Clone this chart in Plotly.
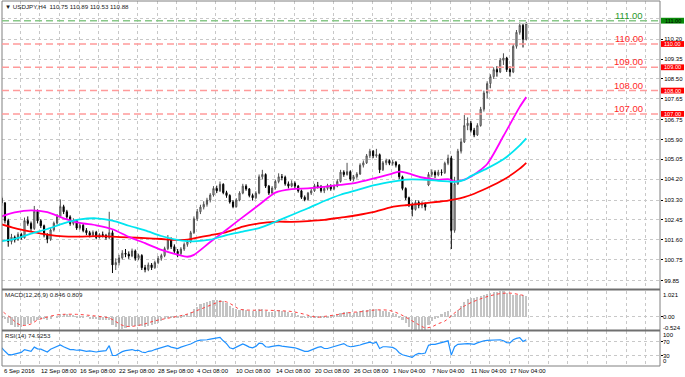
import plotly.graph_objects as go

# ---------------- data (8-hour candles built from the H4 chart) ----------------
opens = [103.55,103.38,103.18,102.42,101.52,101.71,101.60,101.83,101.68,102.42,
102.30,102.08,102.82,102.41,102.20,101.80,101.62,102.02,102.31,102.60,
103.02,102.80,102.58,102.30,102.42,102.10,102.22,102.00,101.90,101.79,
101.92,101.70,101.82,101.78,101.70,101.90,100.52,100.62,100.82,101.02,
100.98,100.90,101.12,100.80,100.92,100.40,100.32,100.52,100.40,100.62,
100.80,100.92,101.22,101.62,101.30,101.10,101.00,101.20,101.40,101.52,
101.90,102.50,102.80,103.00,103.12,103.30,103.52,103.80,103.70,103.98,
103.62,103.50,103.22,103.02,103.30,103.60,103.90,103.78,103.50,103.40,
103.60,104.30,104.40,103.90,103.60,103.82,104.10,104.30,104.28,104.00,
103.90,104.02,103.90,103.70,103.42,103.32,103.60,103.70,103.92,103.88,
103.70,103.80,103.92,103.78,103.90,104.10,104.50,104.40,104.52,104.20,
104.30,104.42,104.80,104.90,105.20,105.40,105.20,105.25,104.60,104.90,
105.00,104.88,104.92,104.80,104.30,103.80,103.40,103.10,102.90,103.20,
103.08,103.12,103.95,104.40,104.50,104.38,104.50,104.48,104.88,105.10,
102.00,104.00,105.40,105.80,106.50,106.60,106.30,106.10,106.50,107.20,
107.90,108.30,108.60,108.90,108.80,109.30,109.40,108.90,108.80,109.90,
110.50,110.80,110.20]
highs = [103.66,103.45,103.22,102.50,101.85,101.78,101.92,101.90,102.55,102.60,
102.38,103.05,102.90,102.48,102.25,101.88,102.10,102.38,102.70,103.33,
103.10,102.88,102.65,102.52,102.48,102.30,102.28,102.10,101.98,102.00,
101.98,101.88,101.95,101.85,102.80,102.00,100.80,100.95,101.15,101.20,
101.10,101.22,101.18,101.00,100.98,100.52,100.62,100.60,100.70,100.90,
101.00,101.30,101.80,101.70,101.40,101.20,101.28,101.48,101.60,101.98,
102.60,102.92,103.10,103.25,103.40,103.60,103.90,103.92,104.10,104.02,
103.70,103.55,103.30,103.38,103.68,104.00,103.98,103.82,103.58,103.68,
104.40,104.60,104.45,103.95,103.90,104.18,104.45,104.42,104.35,104.10,
104.15,104.10,103.95,103.75,103.50,103.65,103.78,104.00,104.08,103.95,
103.88,104.00,103.98,103.98,104.20,104.60,104.58,104.90,104.58,104.38,
104.50,104.88,105.00,105.28,105.50,105.45,105.50,105.30,104.98,105.08,
105.05,105.02,104.98,104.85,104.35,103.85,103.45,103.20,103.30,103.28,
103.25,103.20,104.50,104.62,104.58,104.60,104.62,104.95,105.25,105.20,
104.30,105.50,105.95,106.95,106.85,106.70,106.40,106.60,107.30,108.00,
108.40,108.70,109.00,109.05,109.40,109.60,109.45,109.05,110.00,110.60,
110.92,110.90,110.95]
lows = [103.25,103.05,102.30,101.30,101.40,101.48,101.55,101.60,101.65,102.20,
101.98,102.02,102.30,102.10,101.70,101.45,101.55,101.95,102.25,102.55,
102.70,102.50,102.20,102.22,102.02,102.03,101.92,101.80,101.70,101.72,
101.62,101.65,101.70,101.60,101.62,100.17,100.30,100.50,100.75,100.85,
100.78,100.85,100.70,100.72,100.30,100.20,100.25,100.30,100.35,100.55,
100.70,100.85,101.15,101.20,101.02,100.85,100.92,101.12,101.30,101.45,
101.85,102.40,102.70,102.90,103.02,103.20,103.45,103.60,103.65,103.55,
103.40,103.15,102.95,102.98,103.25,103.55,103.70,103.42,103.28,103.35,
103.55,104.20,103.82,103.52,103.55,103.75,104.02,104.15,103.92,103.80,
103.85,103.82,103.62,103.35,103.25,103.28,103.52,103.65,103.80,103.62,
103.60,103.72,103.70,103.72,103.85,104.05,104.30,104.35,104.12,104.10,
104.22,104.38,104.70,104.85,105.10,105.10,105.12,104.46,104.55,104.80,
104.80,104.78,104.70,104.20,103.72,103.30,103.00,102.60,102.85,102.95,
102.95,102.85,103.90,104.30,104.25,104.32,104.35,104.42,104.80,101.20,
101.90,103.95,105.30,105.75,106.30,106.20,106.00,106.05,106.45,107.10,
107.65,108.10,108.50,108.60,108.75,109.10,108.80,108.60,108.75,109.80,
110.40,109.85,110.15]
closes = [103.38,103.18,102.42,101.52,101.71,101.60,101.83,101.68,102.42,102.30,
102.08,102.82,102.41,102.20,101.80,101.62,102.02,102.31,102.60,103.02,
102.80,102.58,102.30,102.42,102.10,102.22,102.00,101.90,101.79,101.92,
101.70,101.82,101.78,101.70,101.90,100.52,100.62,100.82,101.02,100.98,
100.90,101.12,100.80,100.92,100.40,100.32,100.52,100.40,100.62,100.80,
100.92,101.22,101.62,101.30,101.10,101.00,101.20,101.40,101.52,101.90,
102.50,102.80,103.00,103.12,103.30,103.52,103.80,103.70,103.98,103.62,
103.50,103.22,103.02,103.30,103.60,103.90,103.78,103.50,103.40,103.60,
104.30,104.40,103.90,103.60,103.82,104.10,104.30,104.28,104.00,103.90,
104.02,103.90,103.70,103.42,103.32,103.60,103.70,103.92,103.88,103.70,
103.80,103.92,103.78,103.90,104.10,104.50,104.40,104.52,104.20,104.30,
104.42,104.80,104.90,105.20,105.40,105.20,105.25,104.60,104.90,105.00,
104.88,104.92,104.80,104.30,103.80,103.40,103.10,102.90,103.20,103.08,
103.12,103.00,104.40,104.50,104.38,104.50,104.48,104.88,105.10,102.00,
104.00,105.40,105.80,106.50,106.60,106.30,106.10,106.50,107.20,107.90,
108.30,108.60,108.90,108.80,109.30,109.40,108.90,108.80,109.90,110.50,
110.80,110.20,110.88]

# moving averages, sampled at candle indices
ma_idx = [0,5,10,15,20,25,30,35,40,45,50,55,58,60,65,70,75,80,85,90,95,100,105,
          110,115,120,123,125,130,135,138,140,143,145,150,155,160,162]
ma_fast = [102.56,102.77,102.86,102.78,102.52,102.32,102.22,102.05,101.72,101.45,101.16,
           100.96,100.87,100.95,101.50,102.03,102.57,103.10,103.62,103.77,103.80,103.87,
           103.95,104.05,104.22,104.40,104.52,104.48,104.27,104.17,104.20,104.10,104.18,
           104.30,104.85,106.05,107.30,107.72]
ma_mid = [101.52,101.64,101.86,102.06,102.30,102.47,102.52,102.42,102.20,102.00,101.76,
          101.59,101.54,101.53,101.60,101.80,101.95,102.10,102.37,102.66,102.95,103.26,
          103.53,103.73,103.93,104.07,104.14,104.18,104.18,104.13,104.10,104.08,104.17,
          104.33,104.66,105.05,105.65,105.95]
ma_slow = [102.30,102.10,101.95,101.82,101.74,101.73,101.75,101.73,101.70,101.67,101.63,
           101.59,101.60,101.66,101.79,101.93,102.16,102.30,102.37,102.37,102.40,102.45,
           102.55,102.65,102.78,102.98,103.05,103.08,103.15,103.23,103.28,103.33,103.43,
           103.52,103.82,104.17,104.65,104.90]

macd_hist = [0.12,0.06,-0.06,-0.20,-0.30,-0.36,-0.38,-0.37,-0.31,-0.25,
-0.20,-0.12,-0.10,-0.05,-0.06,-0.08,-0.04,0.00,0.05,0.12,
0.14,0.13,0.10,0.08,0.06,0.04,0.02,0.00,-0.03,-0.05,
-0.07,-0.08,-0.09,-0.08,-0.10,-0.28,-0.38,-0.43,-0.43,-0.40,
-0.37,-0.34,-0.32,-0.32,-0.34,-0.35,-0.34,-0.31,-0.26,-0.20,
-0.13,-0.05,0.03,0.06,0.05,0.05,0.07,0.10,0.15,0.22,
0.32,0.42,0.50,0.55,0.60,0.64,0.67,0.69,0.68,0.63,
0.55,0.46,0.37,0.32,0.30,0.31,0.29,0.26,0.24,0.26,
0.31,0.31,0.26,0.22,0.22,0.24,0.27,0.26,0.23,0.21,
0.19,0.16,0.10,0.05,0.01,0.02,0.03,0.05,0.06,0.05,
0.05,0.06,0.07,0.08,0.12,0.17,0.21,0.21,0.19,0.19,
0.20,0.23,0.27,0.30,0.33,0.33,0.31,0.27,0.26,0.25,
0.22,0.19,0.13,0.04,-0.10,-0.23,-0.35,-0.43,-0.47,-0.50,
-0.52,-0.50,-0.30,-0.15,-0.03,0.07,0.13,0.20,0.25,0.10,
0.15,0.30,0.45,0.60,0.70,0.74,0.76,0.78,0.82,0.87,
0.92,0.95,0.98,1.00,1.02,1.01,0.96,0.90,0.86,0.86,
0.88,0.85,0.846]
sig_idx = [0,4,6,8,10,12,14,16,18,20,24,28,32,34,36,38,40,44,48,52,56,58,62,66,68,
           70,72,74,78,82,86,90,94,96,98,100,104,108,112,116,120,123,126,129,131,
           133,135,137,139,141,143,145,148,151,154,157,160,162]
macd_signal = [0.33,-0.06,-0.27,-0.33,-0.27,-0.12,-0.04,0.03,0.08,0.10,0.10,0.06,0.00,
               -0.04,-0.18,-0.32,-0.37,-0.30,-0.15,-0.05,0.05,0.11,0.30,0.50,0.60,
               0.58,0.45,0.30,0.26,0.26,0.24,0.21,0.10,0.03,-0.01,0.02,0.09,0.17,0.21,
               0.27,0.25,0.12,-0.08,-0.30,-0.42,-0.38,-0.26,-0.16,0.05,0.25,0.42,0.55,
               0.70,0.82,0.90,0.92,0.86,0.809]
rsi = [54,52,42,33,32,34,37,39,47,45,
42,54,49,48,45,40,48,52,56,60,
55,50,47,47,45,46,44,42,43,42,
40,42,43,44,58,30,30,36,41,44,
45,47,44,45,40,38,42,43,47,50,
52,57,58,54,52,50,54,58,60,63,
68,72,74,74,75,77,78,80,82,72,
64,52,49,54,58,63,59,54,52,56,
65,64,55,54,56,58,59,57,56,54,
53,52,49,45,42,42,46,50,53,55,
50,50,53,55,57,61,64,58,55,56,
57,60,63,66,68,65,68,50,55,55,
55,53,48,38,32,29,27,25,32,36,
35,37,59,62,62,64,66,70,72,31,
55,62,63,65,64,63,62,66,70,72,
73,74,73,74,75,72,67,66,75,79,
81,70,74.93]

header_ohlc = [110.75, 110.89, 110.53, 110.88]
macd_last = [0.846, 0.809]
rsi_last = 74.9253
bid = 110.88
levels = [111.00, 110.00, 109.00, 108.00, 107.00]
level_kind = ["green", "red", "red", "red", "red"]
price_ticks = [99.85, 100.75, 101.60, 102.45, 103.30, 104.20, 105.05, 105.90,
               106.75, 107.65, 108.50, 109.35, 110.20, 111.10]
hidden_ticks = [111.10]   # label sits under the 111.00 price box
macd_labels = [1.021, 0.00, -0.524]
rsi_labels = [100, 70, 30, 0]
date_labels = ["6 Sep 2016", "12 Sep 08:00", "16 Sep 08:00", "22 Sep 08:00",
               "28 Sep 08:00", "4 Oct 08:00", "10 Oct 08:00", "14 Oct 08:00",
               "20 Oct 08:00", "26 Oct 08:00", "1 Nov 04:00", "7 Nov 04:00",
               "11 Nov 04:00", "17 Nov 04:00"]
date_bars = [None, 26, 50, 74, 98, 122, 146, 170, 194, 218, 242, 266, 290, 314]

# ---------------- figure ----------------
FONT = "Liberation Sans"
W, H = 685, 377
ML, MR, MT, MB = 2, 25, 1, 11
PH = H - MT - MB
PW = W - ML - MR


def py(p):
    """pixel row -> paper y"""
    return (H - MB - p) / PH


def px(p):
    """pixel column -> paper x"""
    return (p - ML) / PW


n = len(closes)
bar_x = [2 * k + 0.5 for k in range(n)]
ma_x = [2 * k + 0.5 for k in ma_idx]
sig_x = [2 * k + 0.5 for k in sig_idx]
X_RANGE = [2.68, 406.6]
grid_x = [2 + 12 * k for k in range(34)]

fig = go.Figure()
fig.add_trace(go.Candlestick(
    x=bar_x, open=opens, high=highs, low=lows, close=closes,
    increasing=dict(line=dict(color="#505050", width=1), fillcolor="#d0d0d0"),
    decreasing=dict(line=dict(color="#000000", width=1), fillcolor="#000000"),
    whiskerwidth=0, showlegend=False, hoverinfo="skip", xaxis="x", yaxis="y"))
for vals, col in [(ma_slow, "#ff0000"), (ma_fast, "#ff00ff"), (ma_mid, "#00e5f0")]:
    fig.add_trace(go.Scatter(x=ma_x, y=vals, mode="lines",
                             line=dict(color=col, width=1.8, shape="spline", smoothing=0.7),
                             showlegend=False, hoverinfo="skip", xaxis="x", yaxis="y"))
fig.add_trace(go.Bar(x=bar_x, y=macd_hist, width=1.3, marker=dict(color="#c4c4c4", line=dict(width=0)),
                     showlegend=False, hoverinfo="skip", xaxis="x2", yaxis="y2"))
fig.add_trace(go.Scatter(x=sig_x, y=macd_signal, mode="lines",
                         line=dict(color="#ff4040", width=1, dash="dot", shape="spline"),
                         showlegend=False, hoverinfo="skip", xaxis="x2", yaxis="y2"))
fig.add_trace(go.Scatter(x=bar_x, y=rsi, mode="lines", line=dict(color="#1e90ff", width=1.2),
                         showlegend=False, hoverinfo="skip", xaxis="x3", yaxis="y3"))

xcommon = dict(range=X_RANGE, tickmode="array", tickvals=grid_x, showticklabels=False,
               showgrid=True, gridcolor="#c8c8c8", griddash="dot", gridwidth=1,
               zeroline=False, showline=False, ticks="", fixedrange=True)
ycommon = dict(side="right", showgrid=True, gridcolor="#c8c8c8", griddash="dot", gridwidth=1,
               zeroline=False, showline=False, ticks="outside", ticklen=2, tickcolor="#000000",
               tickfont=dict(family=FONT, size=6, color="#000000"), fixedrange=True)

fig.update_layout(
    width=W, height=H, margin=dict(l=ML, r=MR, t=MT, b=MB, autoexpand=False),
    paper_bgcolor="white", plot_bgcolor="white", showlegend=False, bargap=0, boxgap=0.5,
    font=dict(family=FONT, size=6, color="#000000"),
    xaxis=dict(**xcommon, domain=[0, 1], anchor="y", rangeslider=dict(visible=False)),
    xaxis2=dict(**xcommon, domain=[0, 1], anchor="y2"),
    xaxis3=dict(**xcommon, domain=[0, 1], anchor="y3"),
    yaxis=dict(**ycommon, domain=[py(289), 1], range=[99.485, 111.845],
               tickmode="array", tickvals=price_ticks,
               ticktext=["" if v in hidden_ticks else "%.2f" % v for v in price_ticks]),
    yaxis2=dict(**ycommon, domain=[py(330.5), py(290.5)], range=[-0.524, 1.021],
                tickmode="array", tickvals=[0], showticklabels=False),
    yaxis3=dict(**ycommon, domain=[0, py(331)], range=[0, 100],
                tickmode="array", tickvals=[30, 70], showticklabels=False),
)

shapes = []
ann = []
# frame and separators
shapes.append(dict(type="rect", xref="paper", yref="paper", x0=0, x1=1, y0=0, y1=1,
                   line=dict(color="#808080", width=1)))
for p in (289.5, 330.5):
    shapes.append(dict(type="line", xref="paper", yref="paper", x0=0, x1=1, y0=py(p), y1=py(p),
                       line=dict(color="#707070", width=2)))
# bid line
shapes.append(dict(type="line", xref="paper", yref="y", x0=0, x1=1, y0=bid, y1=bid,
                   line=dict(color="#c0c0c0", width=1)))
# levels
for lv, kind in zip(levels, level_kind):
    lc = "#88c888" if kind == "green" else "#ff9a9a"
    tc = "#2c9a2c" if kind == "green" else "#ff2a2a"
    bc = "#0a8a0a" if kind == "green" else "#ff0000"
    shapes.append(dict(type="line", xref="paper", yref="y", x0=0, x1=1, y0=lv, y1=lv,
                       line=dict(color=lc, width=1.5, dash="7px,4px")))
    ann.append(dict(xref="paper", yref="y", x=px(645), y=lv, xanchor="right",
                    yanchor="middle", yshift=5.5, text="%.2f" % lv, showarrow=False,
                    font=dict(family=FONT, size=9.5, color=tc)))
    shapes.append(dict(type="rect", xref="paper", yref="y", x0=px(661), x1=px(684),
                       y0=lv - 0.125, y1=lv + 0.125, fillcolor=bc, line=dict(width=0)))
    ann.append(dict(xref="paper", yref="y", x=px(672.5), y=lv, xanchor="center",
                    yanchor="middle", text="%.2f" % lv, showarrow=False, borderpad=0,
                    font=dict(family=FONT, size=5.6, color="#ffffff" if kind == "red" else "#000000")))

# header & indicator titles
ann.append(dict(xref="paper", yref="paper", x=0, y=py(6.5), xanchor="left", yanchor="middle", xshift=1,
                text="▼ USDJPY,H4  %.2f %.2f %.2f %.2f" % tuple(header_ohlc), showarrow=False,
                font=dict(family=FONT, size=6.2, color="#202020")))
ann.append(dict(xref="paper", yref="paper", x=0, y=py(294.5), xanchor="left", yanchor="middle", xshift=1,
                text="MACD(12,26,9) %.3f %.3f" % tuple(macd_last), showarrow=False,
                font=dict(family=FONT, size=6.2, color="#202020")))
ann.append(dict(xref="paper", yref="paper", x=0, y=py(335.5), xanchor="left", yanchor="middle", xshift=1,
                text="RSI(14) %.4f" % rsi_last, showarrow=False,
                font=dict(family=FONT, size=6.2, color="#202020")))

# right labels of sub-windows
macd_shift = [-4, 0, 3]
for v, s in zip(macd_labels, macd_shift):
    txt = "%.3f" % v if v != 0 else "0.00"
    ann.append(dict(xref="paper", yref="y2", x=1, y=v, xanchor="left", yanchor="middle", xshift=1,
                    yshift=s, text=txt, showarrow=False, font=dict(family=FONT, size=6, color="#000")))
rsi_shift = [-4, 0, 0, 5]
for v, s in zip(rsi_labels, rsi_shift):
    ann.append(dict(xref="paper", yref="y3", x=1, y=v, xanchor="left", yanchor="middle", xshift=1,
                    yshift=s, text=str(v), showarrow=False, font=dict(family=FONT, size=6, color="#000")))

# date labels
for lab, b in zip(date_labels, date_bars):
    if b is None:
        ann.append(dict(xref="paper", yref="paper", x=0, y=0, xanchor="left", yanchor="top",
                        text=lab, showarrow=False, font=dict(family=FONT, size=6, color="#000")))
    else:
        ann.append(dict(xref="x3", yref="paper", x=b, y=0, xanchor="left", yanchor="top", xshift=-1,
                        text=lab, showarrow=False, font=dict(family=FONT, size=6, color="#000")))

fig.update_layout(shapes=shapes, annotations=ann)
fig.write_html("out.html", config={"displayModeBar": False},
               post_script="document.body.style.margin='0';document.body.style.overflow='hidden';")
